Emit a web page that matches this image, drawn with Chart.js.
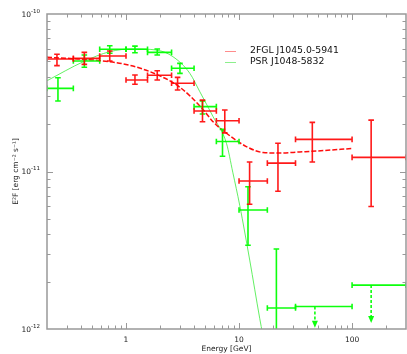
<!DOCTYPE html>
<html>
<head>
<meta charset="utf-8">
<script src="https://cdn.jsdelivr.net/npm/chart.js@4.4.0/dist/chart.umd.min.js"></script>
<style>
  html, body { margin: 0; padding: 0; background: #fff; }
  #wrap { width: 407px; height: 354px; }
</style>
</head>
<body>
<div id="wrap"><canvas id="sed" width="407" height="354"></canvas></div>
<script>
// energy bins [GeV]
const binLo = [0.2, 0.342, 0.585, 1.0, 1.55, 2.53, 4.0, 6.3, 10, 17.8, 31.6, 100];
const binHi = [0.342, 0.585, 1.0, 1.55, 2.53, 4.0, 6.3, 10, 17.8, 31.6, 100, 300];

// 2FGL J1045.0-5941, E^2F [erg cm-2 s-1]
const redE  = [0.245, 0.428, 0.718, 1.20, 1.89, 2.86, 4.75, 7.48, 12.4, 22.1, 44.5, 147.5];
const redF  = [5.18e-11, 5.23e-11, 5.41e-11, 3.81e-11, 4.08e-11, 3.63e-11, 2.42e-11, 2.10e-11, 8.7e-12, 1.13e-11, 1.60e-11, 1.23e-11];
const redHi = [5.55e-11, 5.71e-11, 5.82e-11, 4.10e-11, 4.36e-11, 3.96e-11, 2.84e-11, 2.46e-11, 1.15e-11, 1.51e-11, 2.05e-11, 2.12e-11];
const redLo = [4.70e-11, 4.79e-11, 5.03e-11, 3.58e-11, 3.81e-11, 3.29e-11, 2.07e-11, 1.76e-11, 6.2e-12, 7.5e-12, 1.15e-11, 6.0e-12];

// PSR J1048-5832
const greenE  = [0.250, 0.428, 0.718, 1.20, 1.89, 3.0, 4.75, 7.14, 12.0, 21.4];
const greenF  = [3.37e-11, 5.03e-11, 5.97e-11, 5.97e-11, 5.71e-11, 4.52e-11, 2.58e-11, 1.55e-11, 5.7e-12, 1.36e-12];
const greenHi = [3.94e-11, 5.49e-11, 6.29e-11, 6.25e-11, 5.99e-11, 4.86e-11, 2.81e-11, 1.85e-11, 8.0e-12, 3.22e-12];
const greenLo = [2.80e-11, 4.59e-11, 5.63e-11, 5.68e-11, 5.49e-11, 4.20e-11, 2.32e-11, 1.25e-11, 3.4e-12, 5e-13];

// PSR J1048-5832 upper limits
const ulE   = [46.9, 147.5];
const ulLo  = [31.6, 100];
const ulHi  = [100, 300];
const ulF   = [1.39e-12, 1.90e-12];
const ulTip = [1.02e-12, 1.09e-12];

// model curves
const redModelE = [0.2, 0.35, 0.59, 1.0, 1.63, 2.96, 4.7, 5.89, 7.74, 11.6, 16.3, 22.9, 34.3, 50, 100];
const redModelF = [5.31e-11, 5.2e-11, 5.05e-11, 4.78e-11, 4.30e-11, 3.45e-11, 2.52e-11, 2.07e-11, 1.75e-11, 1.44e-11, 1.32e-11, 1.31e-11, 1.33e-11, 1.35e-11, 1.40e-11];
const greenModelE = [0.2, 0.42, 0.722, 1.16, 1.87, 2.6, 3.67, 4.5, 5.89, 7.74, 8.8, 10.14, 12.43, 15.23, 16.2];
const greenModelF = [3.77e-11, 4.98e-11, 5.77e-11, 6.0e-11, 5.90e-11, 5.36e-11, 4.20e-11, 3.21e-11, 2.23e-11, 1.51e-11, 9.9e-12, 6.1e-12, 2.74e-12, 1.17e-12, 9.2e-13];

const xTicks = [1, 10, 100];
const yTicks = [1e-12, 1e-11, 1e-10];
const yExp = ['-12', '-11', '-10'];

const RED = 'rgba(255,0,0,0.9)';
const GREEN = 'rgba(0,255,0,0.95)';
const FONT = '"DejaVu Sans", sans-serif';

function cross(ctx, x, y, e, f, lo, hi, e0, e1) {
  const px = x.getPixelForValue(e), py = y.getPixelForValue(f);
  const pl = x.getPixelForValue(e0), pr = x.getPixelForValue(e1);
  const pt = y.getPixelForValue(hi), pb = y.getPixelForValue(lo);
  const c = 2.8;
  ctx.beginPath();
  ctx.moveTo(pl, py); ctx.lineTo(pr, py);
  ctx.moveTo(pl, py - c); ctx.lineTo(pl, py + c);
  ctx.moveTo(pr, py - c); ctx.lineTo(pr, py + c);
  ctx.moveTo(px, pt); ctx.lineTo(px, pb);
  ctx.moveTo(px - c, pt); ctx.lineTo(px + c, pt);
  ctx.moveTo(px - c, pb); ctx.lineTo(px + c, pb);
  ctx.stroke();
}

const sedDecor = {
  id: 'sedDecor',
  afterDatasetsDraw(chart) {
    const { ctx, chartArea: a, scales: { x, y } } = chart;
    ctx.save();
    ctx.beginPath();
    ctx.rect(a.left, a.top, a.right - a.left, a.bottom - a.top);
    ctx.clip();
    ctx.lineWidth = 1.6;
    ctx.strokeStyle = GREEN;
    greenE.forEach((e, i) => cross(ctx, x, y, e, greenF[i], greenLo[i], greenHi[i], binLo[i], binHi[i]));
    // upper limits
    ulE.forEach((e, i) => {
      const px = x.getPixelForValue(e), py = y.getPixelForValue(ulF[i]);
      const pl = x.getPixelForValue(ulLo[i]), pr = x.getPixelForValue(ulHi[i]);
      const tip = y.getPixelForValue(ulTip[i]);
      ctx.setLineDash([]);
      ctx.beginPath();
      ctx.moveTo(pl, py); ctx.lineTo(pr, py);
      ctx.moveTo(pl, py - 2.8); ctx.lineTo(pl, py + 2.8);
      ctx.moveTo(pr, py - 2.8); ctx.lineTo(pr, py + 2.8);
      ctx.stroke();
      ctx.setLineDash([3, 2]);
      ctx.beginPath();
      ctx.moveTo(px, py); ctx.lineTo(px, tip - 6);
      ctx.stroke();
      ctx.setLineDash([]);
      ctx.fillStyle = GREEN;
      ctx.beginPath();
      ctx.moveTo(px - 3, tip - 7); ctx.lineTo(px + 3, tip - 7); ctx.lineTo(px, tip);
      ctx.closePath();
      ctx.fill();
    });
    ctx.strokeStyle = RED;
    redE.forEach((e, i) => cross(ctx, x, y, e, redF[i], redLo[i], redHi[i], binLo[i], binHi[i]));
    ctx.restore();

    // frame
    ctx.save();
    ctx.strokeStyle = '#999';
    ctx.lineWidth = 1.5;
    ctx.strokeRect(a.left, a.top, a.right - a.left, a.bottom - a.top);
    ctx.lineWidth = 1;
    ctx.beginPath();
    for (let d = 0.1; d <= 100; d *= 10) {
      for (let k = 1; k <= 9; k++) {
        const v = k * d;
        if (v <= x.min * 1.001 || v >= x.max * 0.999) continue;
        const p = Math.round(x.getPixelForValue(v)) + 0.5;
        const len = k === 1 ? 6 : 3.5;
        ctx.moveTo(p, a.bottom); ctx.lineTo(p, a.bottom - len);
        ctx.moveTo(p, a.top); ctx.lineTo(p, a.top + len);
      }
    }
    for (let d = 1e-12; d <= 1e-11; d *= 10) {
      for (let k = 1; k <= 9; k++) {
        const v = k * d;
        if (v <= y.min * 1.001 || v >= y.max * 0.999) continue;
        const p = Math.round(y.getPixelForValue(v)) + 0.5;
        const len = k === 1 ? 6 : 3.5;
        ctx.moveTo(a.left, p); ctx.lineTo(a.left + len, p);
        ctx.moveTo(a.right, p); ctx.lineTo(a.right - len, p);
      }
    }
    ctx.stroke();

    // tick labels
    ctx.fillStyle = '#222';
    ctx.font = '7.5px ' + FONT;
    ctx.textAlign = 'center';
    ctx.textBaseline = 'middle';
    xTicks.forEach(v => ctx.fillText(String(v), x.getPixelForValue(v), 340));
    yTicks.forEach((v, i) => {
      const p = y.getPixelForValue(v);
      ctx.font = '5.5px ' + FONT;
      ctx.textAlign = 'right';
      ctx.fillText(yExp[i], 40, p - 2.5);
      const w = ctx.measureText(yExp[i]).width;
      ctx.font = '7.5px ' + FONT;
      ctx.fillText('10', 40 - w, p + 1);
    });

    // axis titles
    ctx.textAlign = 'center';
    ctx.fillText('Energy [GeV]', (a.left + a.right) / 2, 349);
    ctx.save();
    ctx.translate(16.5, (a.top + a.bottom) / 2);
    ctx.rotate(-Math.PI / 2);
    ctx.fillText('E\u00b2F [erg cm\u207b\u00b2 s\u207b\u00b9]', 0, 0);
    ctx.restore();

    // legend
    ctx.lineWidth = 1;
    ctx.strokeStyle = 'rgba(255,0,0,0.45)';
    ctx.beginPath(); ctx.moveTo(225, 51.5); ctx.lineTo(236, 51.5); ctx.stroke();
    ctx.strokeStyle = 'rgba(0,220,0,0.45)';
    ctx.beginPath(); ctx.moveTo(225, 62.5); ctx.lineTo(236, 62.5); ctx.stroke();
    ctx.fillStyle = '#111';
    ctx.font = '9.3px ' + FONT;
    ctx.textAlign = 'left';
    ctx.fillText(chart.data.datasets[0].label, 250, 51);
    ctx.fillText(chart.data.datasets[1].label, 250, 62);
    ctx.restore();
  }
};

new Chart(document.getElementById('sed'), {
  type: 'scatter',
  data: {
    datasets: [
      {
        label: '2FGL J1045.0-5941',
        data: redModelE.map((e, i) => ({ x: e, y: redModelF[i] })),
        showLine: true,
        borderColor: 'rgba(255,0,0,0.95)',
        borderWidth: 1.5,
        borderDash: [5, 2],
        pointRadius: 0,
        tension: 0.4,
        cubicInterpolationMode: 'monotone'
      },
      {
        label: 'PSR J1048-5832',
        data: greenModelE.map((e, i) => ({ x: e, y: greenModelF[i] })),
        showLine: true,
        borderColor: 'rgba(60,235,60,0.8)',
        borderWidth: 1,
        pointRadius: 0,
        tension: 0.4,
        cubicInterpolationMode: 'monotone'
      },
      {
        label: 'red points',
        data: redE.map((e, i) => ({ x: e, y: redF[i] })),
        pointRadius: 0
      },
      {
        label: 'green points',
        data: greenE.map((e, i) => ({ x: e, y: greenF[i] })),
        pointRadius: 0
      }
    ]
  },
  options: {
    responsive: false,
    animation: false,
    layout: { padding: { top: 14, right: 1, left: 0, bottom: 0 } },
    plugins: { legend: { display: false }, tooltip: { enabled: false } },
    scales: {
      x: {
        type: 'logarithmic',
        min: 0.2,
        max: 300,
        grid: { display: false },
        border: { display: false },
        ticks: { display: false },
        afterFit: s => { s.height = 25; }
      },
      y: {
        type: 'logarithmic',
        min: 1e-12,
        max: 1e-10,
        grid: { display: false },
        border: { display: false },
        ticks: { display: false },
        afterFit: s => { s.width = 47; }
      }
    }
  },
  plugins: [sedDecor]
});
</script>
</body>
</html>
